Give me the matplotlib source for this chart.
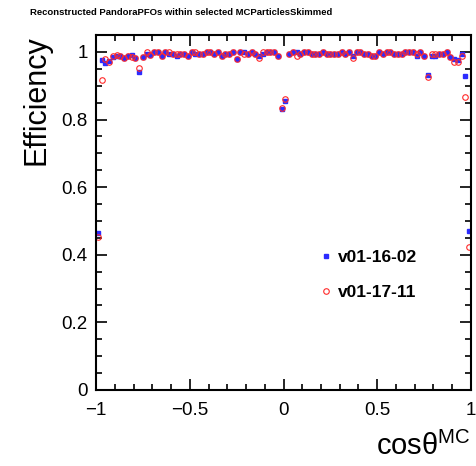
import numpy as np
import matplotlib
matplotlib.use("Agg")
import matplotlib.pyplot as plt
from matplotlib.ticker import MultipleLocator

plt.rcParams['font.family'] = ['Liberation Sans', 'DejaVu Sans']
plt.rcParams['mathtext.fontset'] = 'custom'
plt.rcParams['mathtext.rm'] = 'Liberation Sans'

# bin centres in cos(theta), 100 bins from -1 to 1
cos_theta = np.arange(-0.99, 1.0, 0.02)

eff_v01_16_02 = [
    0.464, 0.976, 0.968, 0.972, 0.986, 0.989, 0.989, 0.983, 0.989, 0.990,
    0.982, 0.942, 0.985, 0.994, 0.992, 1.000, 1.000, 0.989, 1.000, 0.994,
    0.994, 0.989, 0.994, 0.994, 0.987, 1.000, 0.994, 0.994, 0.994, 1.000,
    1.000, 0.994, 1.000, 0.987, 0.994, 0.994, 1.000, 0.980, 1.000, 1.000,
    0.994, 1.000, 0.994, 0.989, 0.994, 1.000, 1.000, 1.000, 0.987, 0.830,
    0.855, 0.994, 1.000, 1.000, 0.994, 1.000, 1.000, 0.994, 0.994, 0.994,
    1.000, 0.994, 0.994, 0.994, 0.994, 1.000, 0.994, 1.000, 0.989, 1.000,
    1.000, 0.994, 0.994, 0.989, 0.989, 1.000, 0.994, 1.000, 1.000, 0.994,
    0.994, 0.994, 1.000, 1.000, 1.000, 0.989, 1.000, 0.989, 0.933, 0.989,
    0.989, 0.994, 0.994, 1.000, 0.985, 0.978, 0.976, 0.994, 0.930, 0.470,
]

eff_v01_17_11 = [
    0.454, 0.918, 0.978, 0.969, 0.989, 0.992, 0.989, 0.983, 0.989, 0.985,
    0.982, 0.953, 0.985, 1.000, 0.992, 1.000, 1.000, 0.989, 1.000, 1.000,
    0.994, 0.994, 0.994, 0.994, 0.987, 1.000, 1.000, 0.994, 0.994, 1.000,
    1.000, 0.994, 1.000, 0.987, 0.994, 0.994, 1.000, 0.980, 1.000, 0.994,
    0.994, 1.000, 0.994, 0.982, 1.000, 1.000, 1.000, 1.000, 0.987, 0.835,
    0.860, 0.994, 1.000, 0.989, 0.994, 1.000, 1.000, 0.994, 0.994, 0.994,
    1.000, 0.994, 0.994, 0.994, 0.994, 1.000, 0.994, 1.000, 0.982, 1.000,
    1.000, 0.994, 0.994, 0.989, 0.989, 1.000, 0.994, 1.000, 1.000, 0.994,
    0.994, 0.994, 1.000, 1.000, 1.000, 0.994, 1.000, 0.989, 0.927, 0.994,
    0.994, 0.994, 0.994, 1.000, 0.985, 0.971, 0.969, 0.989, 0.866, 0.424,
]

fig = plt.figure(figsize=(4.77, 4.66), dpi=100)
ax = fig.add_axes([0.2013, 0.1631, 0.7861, 0.7618])

ax.plot(cos_theta, eff_v01_16_02, ls='none', marker='s', ms=3.0,
        color='#2b2bff', mec='#2b2bff', label='v01-16-02')
ax.plot(cos_theta, eff_v01_17_11, ls='none', marker='o', ms=4.0,
        mfc='none', mec='#ff2a2a', mew=0.8, label='v01-17-11')

ax.set_xlim(-1, 1)
ax.set_ylim(0, 1.05)

# ROOT-like ticks
ax.xaxis.set_major_locator(MultipleLocator(0.5))
ax.xaxis.set_minor_locator(MultipleLocator(0.1))
ax.yaxis.set_major_locator(MultipleLocator(0.2))
ax.yaxis.set_minor_locator(MultipleLocator(0.05))
ax.tick_params(which='both', direction='in', top=True, right=True, width=1.2)
ax.tick_params(which='major', length=8, labelsize=13.5)
ax.tick_params(axis='x', which='major', pad=9)
ax.tick_params(axis='y', which='major', pad=6)
ax.tick_params(which='minor', length=4)
ax.set_xticks([-1, -0.5, 0, 0.5, 1])
ax.set_xticklabels(['\u22121', '\u22120.5', '0', '0.5', '1'])
ax.set_yticks([0, 0.2, 0.4, 0.6, 0.8, 1])
ax.set_yticklabels(['0', '0.2', '0.4', '0.6', '0.8', '1'])
for sp in ax.spines.values():
    sp.set_linewidth(1.5)

ax.set_ylabel('Efficiency', loc='top', fontsize=22, labelpad=7)
ax.set_xlabel('cos\u03b8$^{\\mathrm{MC}}$', loc='right', fontsize=21, labelpad=9)

leg = ax.legend(loc='upper left', bbox_to_anchor=(0.575, 0.414), frameon=False,
                prop={'weight': 'bold', 'size': 12.5}, handlelength=0.8,
                handletextpad=0.3, labelspacing=1.15, borderaxespad=0)

fig.text(0.063, 0.974, 'Reconstructed PandoraPFOs within selected MCParticlesSkimmed',
         fontsize=6.8, weight='bold', va='center', ha='left')

fig.savefig('out.png', dpi=100)
